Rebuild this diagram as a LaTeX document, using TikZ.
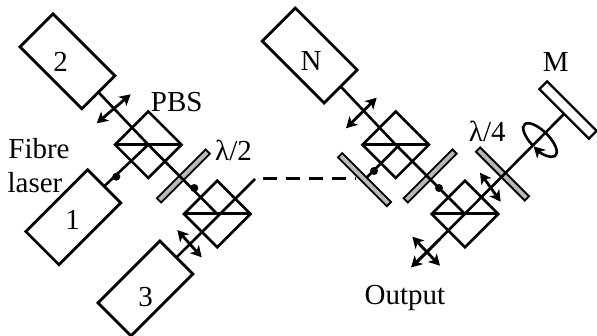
\documentclass[tikz,border=0pt]{standalone}
\usepackage{fontspec}
\setmainfont{Liberation Serif}
\usetikzlibrary{arrows.meta}
\tikzset{
  x=1pt,y=-1pt,
  tip/.tip={Stealth[length=11pt,width=12pt,inset=3pt]},
  beam/.style={line width=2.6pt,black},
  laserbox/.style={draw=black,line width=2.8pt,fill=none,rectangle,inner sep=0,outer sep=0,minimum width=87.5pt,minimum height=46.7pt},
  cube/.style={draw=black,line width=2.6pt,rectangle,rotate=45,inner sep=0,outer sep=0,minimum width=47pt,minimum height=47pt},
  split/.style={line width=3pt,black},
  plate/.style={draw=black,line width=1.8pt,fill=gray!55,rectangle,inner sep=0,outer sep=0,minimum width=69pt,minimum height=6pt},
  mirror/.style={draw=black,line width=2.4pt,fill=white,rectangle,inner sep=0,outer sep=0,minimum width=70pt,minimum height=11pt},
  dotm/.style={circle,fill=black,inner sep=0,minimum size=8pt},
  pol/.style={line width=2.8pt,black,tip-tip},
  lab/.style={inner sep=0,font=\fontsize{29}{29}\selectfont,text=black},
}
\begin{document}
\begin{tikzpicture}
\useasboundingbox (0,0) rectangle (597,336);
\node[laserbox,rotate=-45] (L2) at (67.5,61.3) {};
\node[laserbox,rotate=45] (L1) at (73.3,217.2) {};
\node[laserbox,rotate=45] (L3) at (145.4,288.5) {};
\node[laserbox,rotate=-45] (LN) at (309.7,55.5) {};
\node[cube] (C1) at (148.3,144.7) {};
\node[cube] (C2) at (217.3,214) {};
\node[cube] (C3) at (395.7,144.7) {};
\node[cube] (C4) at (465,214) {};
\draw[split] (C1.north west) -- (C1.south east);
\draw[split] (C2.north west) -- (C2.south east);
\draw[split] (C3.north west) -- (C3.south east);
\draw[split] (C4.north west) -- (C4.south east);
\node[mirror,rotate=-45] (M) at (568,110) {};
\node[plate,rotate=-45] (ML) at (364.5,179.7) {};
\node[plate,rotate=45] (P1) at (183.4,176) {};
\node[plate,rotate=45] (P2) at (430.2,176) {};
\node[plate,rotate=-45] (P3) at (502.5,174) {};
\coordinate (E3) at (255,179);
\coordinate (D3) at (356,179);
\coordinate (Out) at (417,262);
\coordinate (B3) at (399.5,144.7);
\draw[beam] (L2.east) -- (C1.center) -- (C2.center);
\draw[beam] (L1.east) -- (C1.center);
\draw[beam] (L3.east) -- (E3);
\draw[beam] (LN.east) -- (C3.center) -- (C4.center);
\draw[beam] (B3) -- (ML.north);
\draw[beam] (M.south) -- (Out);
\draw[line width=3pt,dash pattern=on 14pt off 9pt] ([xshift=8pt]E3) -- (D3);
\node[dotm] (D1) at (116.3,176.7) {};
\node[dotm] (D2) at (194.3,188) {};
\node[dotm] (D4) at (374,171) {};
\node[dotm] (D5) at (439,188) {};
\coordinate (A1a) at (130.7,94.3); \coordinate (A1b) at (96.7,123.3);
\coordinate (A2a) at (177.3,230); \coordinate (A2b) at (201.7,257.3);
\coordinate (A3a) at (376.7,97.7); \coordinate (A3b) at (346,128.3);
\coordinate (A4a) at (480,172.7); \coordinate (A4b) at (500.7,201.7);
\coordinate (A5a) at (412.3,236.7); \coordinate (A5b) at (440,265.7);
\coordinate (A6a) at (440,239); \coordinate (A6b) at (411,267.5);
\draw[pol] (A1a) -- (A1b);
\draw[pol] (A2a) -- (A2b);
\draw[pol] (A3a) -- (A3b);
\draw[pol] (A4a) -- (A4b);
\draw[pol] (A5a) -- (A5b);
\draw[line width=2.8pt,-tip] (A6a) -- (A6b);
\begin{scope}[shift={(540,140)},rotate=-45]
\draw[line width=2.6pt,-tip] (95:22 and 9) arc[start angle=95,end angle=450,x radius=22,y radius=9];
\end{scope}
\node[lab] (T2) at (60.7,61.7) {2};
\node[lab] (T1) at (72.7,220) {1};
\node[lab] (T3) at (145.7,296.7) {3};
\node[lab] (TN) at (311,61) {N};
\node[lab] (TPBS) at (176.7,101.7) {PBS};
\node[lab] (TH) at (233.5,150) {λ/2};
\node[lab] (TQ) at (487.3,131) {λ/4};
\node[lab] (TM) at (555.7,61.7) {M};
\node[lab] (TF) at (39,149) {Fibre};
\node[lab] (TL) at (35,183) {laser};
\node[lab] (TO) at (405,297.7) {Output};
\end{tikzpicture}
\end{document}
